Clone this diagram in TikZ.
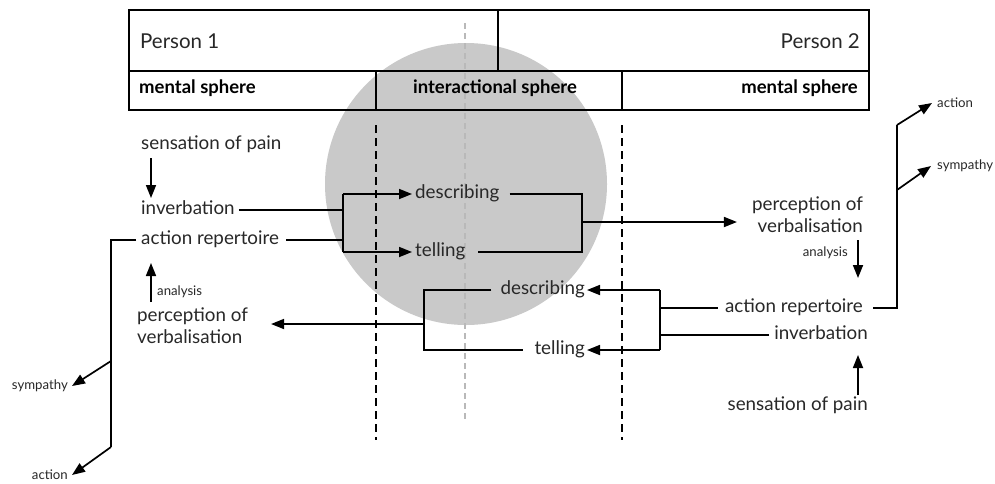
\documentclass[tikz,border=0pt]{standalone}
\usepackage{fontspec}
\setmainfont{Lato}
\usetikzlibrary{arrows.meta,calc}
\definecolor{circgray}{RGB}{201,201,201}
\definecolor{dashgray}{RGB}{185,185,185}
\definecolor{txt}{RGB}{40,40,40}
\begin{document}
\begin{tikzpicture}[x=1pt,y=-1pt,
  big/.style={font=\fontsize{18.8}{22}\selectfont, text=txt, inner sep=0pt, text height=13pt, text depth=4pt},
  twoline/.style={font=\fontsize{18.8}{22}\selectfont, text=txt, inner sep=0pt},
  small/.style={font=\fontsize{13.2}{15}\selectfont, text=txt, inner sep=0pt},
  head/.style={font=\fontsize{20.5}{24}\selectfont, text=txt, inner sep=0pt},
  headb/.style={font=\bfseries\fontsize{18.5}{22}\selectfont, text=black, inner sep=0pt},
  conn/.style={line width=1.7pt, draw=black},
  arr/.style={conn, -{Triangle[length=13pt,width=10pt]}},
  frame/.style={line width=1.4pt, draw=black},
  sep/.style={line width=1.4pt, draw=black, dash pattern=on 8pt off 5pt},
  gsep/.style={line width=1.4pt, draw=dashgray, dash pattern=on 6pt off 4pt}
]
\useasboundingbox (0,0) rectangle (995,483);
\fill[white] (0,0) rectangle (995,483);

% grey circle
\fill[circgray] (466,184) circle[radius=141pt];
% centre grey dashed line
\draw[gsep] (465,23) -- (465,420);
% sphere separators
\draw[sep] (376,125) -- (376,440);
\draw[sep] (622,125) -- (622,440);

% header
\draw[frame] (129,10) rectangle (869,110);
\draw[frame] (129,71) -- (869,71);
\draw[frame] (498,10) -- (498,71);
\draw[frame] (376,71) -- (376,110);
\draw[frame] (622,71) -- (622,110);
\node[head, anchor=west] (p1) at (140,41) {Person 1};
\node[head, anchor=east] (p2) at (860,41) {Person 2};
\node[headb, anchor=west] (ms1) at (139,88) {mental sphere};
\node[headb] (is) at (495,88) {interactional sphere};
\node[headb, anchor=east] (ms2) at (858,88) {mental sphere};

% ---------- Person 1 side ----------
\node[big, anchor=west] (sp1) at (141,145) {sensation of pain};
\node[big, anchor=west] (inv1) at (141,210) {inverbation};
\node[big, anchor=west] (ar1) at (141,240) {action repertoire};
\node[twoline, anchor=west, align=left] (pv1) at (137,326) {perception of\\verbalisation};
\node[small, anchor=west] (an1) at (157,292) {analysis};

\draw[arr] (151,158) -- (151,198);
\draw[arr] (151,302) -- (151,263);

% outgoing from person 1
\node[big, anchor=west] (desc1) at (415,194) {describing};
\node[big, anchor=west] (tell1) at (415,252) {telling};
\coordinate (jx) at (343,0);
\coordinate (jx2) at (582,0);
\draw[conn] ([xshift=4pt]inv1.east) -- (inv1.east -| jx);
\draw[conn] ([xshift=7pt]ar1.east) -- (ar1.east -| jx);
\draw[conn] (desc1.west -| jx) -- (tell1.west -| jx);
\draw[arr] (desc1.west -| jx) -- ([xshift=-3pt]desc1.west);
\draw[arr] (tell1.west -| jx) -- ([xshift=-3pt]tell1.west);
\draw[conn] ([xshift=10pt]desc1.east) -- (desc1.east -| jx2) -- (tell1.east -| jx2) -- ([xshift=12pt]tell1.east);

% person 2 perception
\node[twoline, anchor=east, align=right] (pv2) at (863,215) {perception of\\verbalisation};
\coordinate (o1) at (582,222);
\draw[arr] (o1) -- ($(pv2.west |- o1)+(-15,0)$);
\node[small, anchor=east] (an2) at (848,253) {analysis};
\coordinate (a2s) at (858,240);
\coordinate (a2e) at (858,278);
\draw[arr] (a2s) -- (a2e);

% ---------- Person 2 side ----------
\node[big, anchor=east] (ar2) at (863,308) {action repertoire};
\node[big, anchor=east] (inv2) at (868,335) {inverbation};
\node[big, anchor=east] (sp2) at (868,406) {sensation of pain};
\draw[arr] (858,395) -- (858,355);

\node[big, anchor=east] (desc2) at (585,290) {describing};
\node[big, anchor=east] (tell2) at (585,350) {telling};
\coordinate (kx) at (660,0);
\coordinate (kx2) at (424,0);
\draw[conn] ([xshift=-7pt]ar2.west) -- (ar2.west -| kx);
\draw[conn] ([xshift=-5pt]inv2.west) -- (inv2.west -| kx);
\draw[conn] (desc2.east -| kx) -- (tell2.east -| kx);
\draw[arr] (desc2.east -| kx) -- ([xshift=2pt]desc2.east);
\draw[arr] (tell2.east -| kx) -- ([xshift=2pt]tell2.east);
\draw[conn] ([xshift=-9pt]desc2.west) -- (desc2.west -| kx2) -- (tell2.west -| kx2) -- ([xshift=-11pt]tell2.west);
\coordinate (o2) at (424,324);
\draw[arr] (o2) -- ($(pv1.east |- o2)+(23,0)$);

% person 2 reactions
\node[small, anchor=west] (act2) at (937,103) {action};
\node[small, anchor=west] (sym2) at (937,166) {sympathy};
\coordinate (r2a) at (897,125);
\coordinate (r2b) at (897,190);
\draw[conn] ([xshift=10pt]ar2.east) -- (ar2.east -| r2a) -- (r2a);
\draw[arr] (r2a) -- ([xshift=-5pt]act2.west);
\draw[arr] (r2b) -- ([xshift=-6pt]sym2.west);

% person 1 reactions
\node[small, anchor=east] (sym1) at (68,386) {sympathy};
\node[small, anchor=east] (act1) at (68,475) {action};
\coordinate (r1a) at (111,447);
\coordinate (r1b) at (111,361);
\draw[conn] ([xshift=-5pt]ar1.west) -- (ar1.west -| r1a) -- (r1a);
\draw[arr] (r1a) -- ([xshift=4pt]act1.east);
\draw[arr] (r1b) -- ([xshift=4pt]sym1.east);
\end{tikzpicture}
\end{document}
